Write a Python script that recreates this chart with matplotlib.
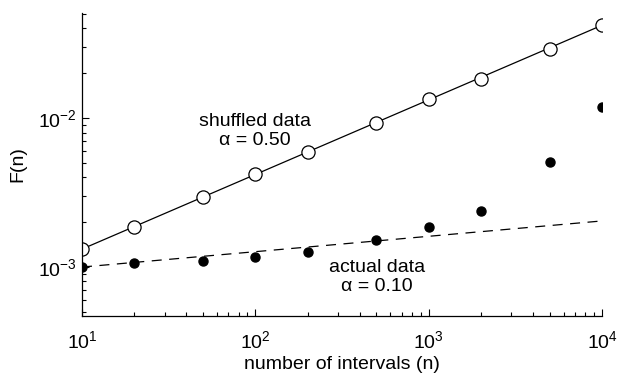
import matplotlib.pyplot as plt
from matplotlib.ticker import LogLocator, NullFormatter

plt.rcParams["font.family"] = ["Liberation Sans", "DejaVu Sans"]
plt.rcParams["mathtext.default"] = "regular"

# data
n = [10, 20, 50, 100, 200, 500, 1000, 2000, 5000, 10000]
f_shuffled = [1.32e-3, 1.85e-3, 2.95e-3, 4.2e-3, 5.95e-3, 9.25e-3, 1.34e-2, 1.83e-2, 2.9e-2, 4.2e-2]
f_actual = [1.0e-3, 1.06e-3, 1.1e-3, 1.17e-3, 1.26e-3, 1.52e-3, 1.85e-3, 2.38e-3, 5.07e-3, 1.19e-2]

# fitted lines (end points)
fit_n = [10, 10000]
fit_shuffled = [1.32e-3, 4.2e-2]
fit_actual = [1.0e-3, 2.04e-3]

fig = plt.figure(figsize=(6.25, 3.74), dpi=100)
ax = fig.add_axes([0.1312, 0.155, 0.832, 0.81])

ax.plot(fit_n, fit_shuffled, color="black", lw=0.9)
ax.plot(n, f_shuffled, "o", ms=9.5, mfc="white", mec="black", mew=0.9)
ax.plot(fit_n, fit_actual, color="black", lw=0.9, linestyle=(0, (8, 6)))
ax.plot(n, f_actual, "o", ms=6.5, color="black")

ax.set_xscale("log")
ax.set_yscale("log")
ax.set_xlim(10, 1e4)
ax.set_ylim(4.69e-4, 5.07e-2)

ax.spines["top"].set_visible(False)
ax.spines["right"].set_visible(False)
for s in ["left", "bottom"]:
    ax.spines[s].set_linewidth(0.9)

ax.xaxis.set_major_locator(LogLocator(base=10, numticks=10))
ax.yaxis.set_major_locator(LogLocator(base=10, numticks=10))
ax.yaxis.set_minor_formatter(NullFormatter())
ax.tick_params(which="both", direction="in", labelsize=14, width=0.8)
ax.tick_params(which="major", length=5)
ax.tick_params(which="minor", length=3)
ax.tick_params(axis="x", which="major", pad=10)
ax.tick_params(axis="y", which="major", pad=4)

ax.set_xlabel("number of intervals (n)", fontsize=14, labelpad=3)
ax.set_ylabel("F(n)", fontsize=14, labelpad=8)

ax.text(255 / 625, 1 - 131 / 374, "shuffled data\nα = 0.50", transform=fig.transFigure,
        ha="center", va="center", fontsize=14, linespacing=1.2)
ax.text(377 / 625, 1 - 277 / 374, "actual data\nα = 0.10", transform=fig.transFigure,
        ha="center", va="center", fontsize=14, linespacing=1.2)

fig.savefig("out.png", dpi=100)
